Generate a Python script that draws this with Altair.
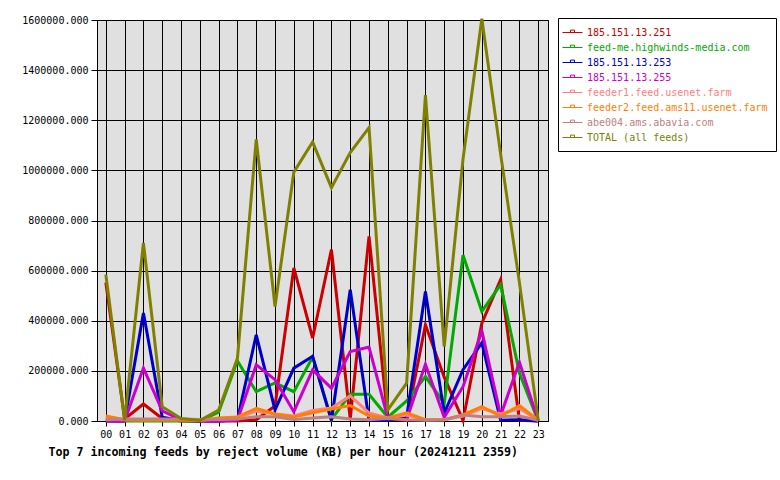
import altair as alt
import pandas as pd

hours = list(range(24))
series_names = [
    "185.151.13.251",
    "feed-me.highwinds-media.com",
    "185.151.13.253",
    "185.151.13.255",
    "feeder1.feed.usenet.farm",
    "feeder2.feed.ams11.usenet.farm",
    "abe004.ams.abavia.com",
    "TOTAL (all feeds)",
]
series_colors = ["#cc0000", "#00aa00", "#0000cc", "#cc00cc", "#ff8080", "#ff8000", "#c08080", "#808000"]

v_251 = [552000, 8000, 68000, 10000, 0, 0, 0, 0, 5000, 60000, 611000, 331000,
         684000, 8000, 737000, 8000, 2000, 384000, 175000, 2000, 390000, 564000, 3000, 0]
v_feedme = [0, 0, 0, 0, 0, 0, 35000, 240000, 117000, 152000, 117000, 255000,
            6000, 107000, 107000, 15000, 80000, 177000, 70000, 662000, 437000, 544000, 191000, 0]
v_253 = [0, 0, 431000, 15000, 2000, 0, 0, 5000, 344000, 44000, 211000, 258000,
         2000, 524000, 3000, 2000, 15000, 517000, 31000, 205000, 312000, 3000, 5000, 0]
v_255 = [0, 0, 211000, 40000, 5000, 0, 0, 3000, 224000, 165000, 37000, 204000,
         131000, 277000, 295000, 12000, 5000, 226000, 15000, 137000, 360000, 22000, 235000, 0]
v_feeder1 = [15000, 5000, 5000, 5000, 5000, 3000, 8000, 12000, 40000, 28000, 20000, 42000,
             52000, 100000, 32000, 12000, 24000, 5000, 5000, 20000, 50000, 28000, 50000, 3000]
v_feeder2 = [20000, 5000, 3000, 5000, 3000, 3000, 12000, 16000, 50000, 28000, 16000, 33000,
             48000, 62000, 20000, 12000, 33000, 5000, 5000, 24000, 57000, 20000, 62000, 3000]
v_abe004 = [5000, 8000, 8000, 8000, 8000, 6000, 6000, 8000, 17000, 17000, 6000, 12000,
            17000, 8000, 5000, 10000, 5000, 3000, 5000, 24000, 17000, 17000, 20000, 3000]
v_total = [584000, 3000, 711000, 57000, 10000, 2000, 44000, 250000, 1124000, 457000, 993000, 1113000,
           931000, 1071000, 1171000, 44000, 151000, 1300000, 297000, 1045000, 1605000, 1065000, 552000, 3000]

y_ticks = [0, 200000, 400000, 600000, 800000, 1000000, 1200000, 1400000, 1600000]
title_text = "Top 7 incoming feeds by reject volume (KB) per hour (20241211 2359)"

all_values = [v_251, v_feedme, v_253, v_255, v_feeder1, v_feeder2, v_abe004, v_total]
rows = []
for name, vals in zip(series_names, all_values):
    for h, v in zip(hours, vals):
        rows.append({"hour": h, "series": name, "value": v})
df = pd.DataFrame(rows)

FONT = "DejaVu Sans Mono"

legend = alt.Legend(
    title=None,
    orient="none",
    legendX=461,
    legendY=-2,
    symbolType="M-1.667,0H1.667M-0.333,0V-0.4H0.333V0",
    symbolSize=144,
    symbolOffset=0,
    symbolStrokeWidth=1,
    symbolFillColor="transparent",
    symbolOpacity=1,
    labelFont=FONT,
    labelFontSize=10,
    labelLimit=0,
    labelOffset=8,
    labelColor={"expr": "scale('color', datum.value)"},
    padding=8,
    rowPadding=3,
    strokeColor="black",
    fillColor="white",
    cornerRadius=0,
)

chart = alt.Chart(df).mark_line(
    strokeWidth=3, strokeJoin="miter", strokeCap="butt", clip=False
).encode(
    x=alt.X(
        "hour:Q",
        scale=alt.Scale(domain=[-0.47, 23.52], nice=False, zero=False),
        axis=alt.Axis(
            values=hours,
            labelExpr="(datum.value < 10 ? '0' : '') + datum.value",
            labelFont=FONT, labelFontSize=10, labelColor="black",
            labelFlush=False, labelOverlap=False, labelPadding=3,
            tickSize=5, tickColor="black", domainColor="black",
            grid=True, gridColor="black", gridOpacity=1, gridWidth=1,
            title=title_text,
            titleFont=FONT, titleFontSize=11.65, titleFontWeight="bold", titleColor="black",
            titleAnchor="start", titleAlign="left", titleBaseline="middle",
            titleX=-49, titleY=31,
        ),
    ),
    y=alt.Y(
        "value:Q",
        scale=alt.Scale(domain=[0, 1600000], nice=False),
        axis=alt.Axis(
            values=y_ticks, format=".3f",
            labelFont=FONT, labelFontSize=10, labelColor="black",
            labelFlush=False, labelOverlap=False, labelPadding=3,
            tickSize=6, tickColor="black", domainColor="black",
            grid=True, gridColor="black", gridOpacity=1, gridWidth=1,
            title=None,
        ),
    ),
    color=alt.Color(
        "series:N",
        scale=alt.Scale(domain=series_names, range=series_colors),
        legend=legend,
    ),
).properties(
    width=451,
    height=401,
    padding={"left": 97, "top": 20, "right": 232, "bottom": 59},
    autosize="none",
    background="white",
).configure_view(
    stroke="black", strokeWidth=1, fill="#e0e0e0"
)

chart.save("out.html", embed_options={"renderer": "svg", "actions": False})
